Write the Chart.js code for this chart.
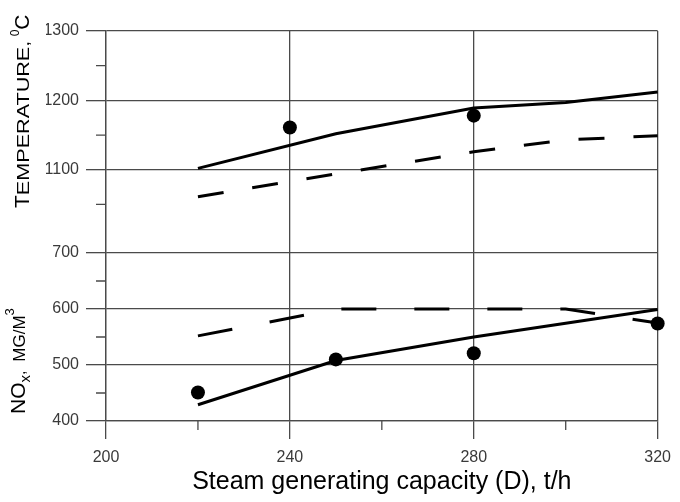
<!DOCTYPE html>
<html>
<head>
<meta charset="utf-8">
<title>Temperature and NOx vs steam generating capacity</title>
<script src="https://cdn.jsdelivr.net/npm/chart.js@4/dist/chart.umd.min.js"></script>
<style>
  html, body { margin: 0; padding: 0; background: #fff; }
  #wrap { position: relative; width: 680px; height: 502px; }
</style>
</head>
<body>
<div id="wrap"><canvas id="chart" width="680" height="502"></canvas></div>
<script>
// Steam generating capacity (D), t/h on the x axis, split y axis:
// furnace temperature (top) and NOx concentration (bottom)

var xTicks = [200, 240, 280, 320];
var xMinorTicks = [220, 260, 300];
var tempTicks = [1100, 1200, 1300];
var tempMinorTicks = [1050, 1150, 1250];
var noxTicks = [400, 500, 600, 700];
var noxMinorTicks = [450, 550, 650];

// temperature, calculated (solid) and second curve (dashed)
var tempCalcX = [220, 250, 280, 300, 320];
var tempCalc = [1102, 1152, 1189, 1197, 1212];
var tempDashX = [220, 250, 280, 300, 320];
var tempDash = [1061, 1094, 1126, 1143, 1149];
// temperature, measured
var tempExpX = [240, 280];
var tempExp = [1161, 1178];

// NOx, calculated (solid) and second curve (dashed)
var noxCalcX = [220, 250, 280, 320];
var noxCalc = [429, 508, 550, 599];
var noxDashX = [220, 250, 300, 320];
var noxDash = [552, 600, 600, 575];
// NOx, measured
var noxExpX = [220, 250, 280, 320];
var noxExp = [451, 510, 521, 574];

var xTitle = 'Steam generating capacity (D), t/h';

var FONT = "'Liberation Sans', Arial, sans-serif";
var GRID = '#4a4a4a';
var TICK_TEXT = '#3a3a3a';

function pairs(xs, ys) {
  return xs.map(function(x, i) { return { x: x, y: ys[i] }; });
}

function fixedTicks(values) {
  return function(scale) {
    scale.ticks = values.map(function(v) { return { value: v }; });
  };
}

function plainLabel(value) {
  return String(value);
}

// short unlabeled ticks between the labeled ones
var minorTicksPlugin = {
  id: 'minorTicks',
  afterDraw: function(chart) {
    var ctx = chart.ctx;
    var area = chart.chartArea;
    var sx = chart.scales.x, st = chart.scales.yT, sn = chart.scales.yN;
    ctx.save();
    ctx.strokeStyle = GRID;
    ctx.lineWidth = 1.3;
    ctx.beginPath();
    xMinorTicks.forEach(function(v) {
      var px = sx.getPixelForValue(v);
      ctx.moveTo(px, area.bottom);
      ctx.lineTo(px, area.bottom + 9);
    });
    tempMinorTicks.forEach(function(v) {
      var py = st.getPixelForValue(v);
      ctx.moveTo(area.left - 10, py);
      ctx.lineTo(area.left, py);
    });
    noxMinorTicks.forEach(function(v) {
      var py = sn.getPixelForValue(v);
      ctx.moveTo(area.left - 10, py);
      ctx.lineTo(area.left, py);
    });
    ctx.stroke();
    ctx.restore();
  }
};

// rotated y titles with small caps, sub- and superscripts
var Y_TITLES = [
  { x: 29, y: 208, parts: [
    { t: 'T', size: 21 },
    { t: 'EMPERATURE,', size: 16, sx: 1.35 },
    { t: ' ', size: 16 },
    { t: '0', size: 12, dy: -10 },
    { t: 'C', size: 21 }
  ] },
  { x: 25, y: 414, parts: [
    { t: 'NO', size: 21 },
    { t: 'x', size: 15, dy: 5 },
    { t: ',  ', size: 16 },
    { t: 'MG/M', size: 17 },
    { t: '3', size: 13, dy: -11 }
  ] }
];

var yTitlesPlugin = {
  id: 'yTitles',
  afterDraw: function(chart) {
    var ctx = chart.ctx;
    Y_TITLES.forEach(function(title) {
      ctx.save();
      ctx.translate(title.x, title.y);
      ctx.rotate(-Math.PI / 2);
      ctx.fillStyle = '#000';
      ctx.textBaseline = 'alphabetic';
      ctx.textAlign = 'left';
      var cx = 0;
      title.parts.forEach(function(p) {
        var s = p.sx || 1;
        ctx.font = p.size + 'px ' + FONT;
        ctx.save();
        ctx.translate(cx, p.dy || 0);
        ctx.scale(s, 1);
        ctx.fillText(p.t, 0, 0);
        ctx.restore();
        cx += ctx.measureText(p.t).width * s;
      });
      ctx.restore();
    });
  }
};

function lineSet(xs, ys, axis, dash) {
  return {
    data: pairs(xs, ys),
    yAxisID: axis,
    borderColor: '#000',
    borderWidth: 3,
    borderDash: dash || [],
    pointRadius: 0,
    tension: 0,
    fill: false,
    clip: false
  };
}

function pointSet(xs, ys, axis) {
  return {
    data: pairs(xs, ys),
    yAxisID: axis,
    showLine: false,
    pointRadius: 7,
    pointBackgroundColor: '#000',
    pointBorderColor: '#000',
    pointBorderWidth: 0,
    clip: false
  };
}

function yScale(min, max, ticks, weight) {
  return {
    type: 'linear',
    position: 'left',
    stack: 'y',
    stackWeight: weight,
    min: min,
    max: max,
    afterBuildTicks: fixedTicks(ticks),
    afterFit: function(s) { s.width = 60; },
    grid: { color: GRID, lineWidth: 1.3, tickLength: 20, tickColor: GRID },
    border: { display: true, color: GRID, width: 1.3 },
    ticks: { font: { family: FONT, size: 16 }, color: TICK_TEXT, padding: 7, callback: plainLabel }
  };
}

new Chart(document.getElementById('chart'), {
  type: 'line',
  data: {
    datasets: [
      pointSet(tempExpX, tempExp, 'yT'),
      pointSet(noxExpX, noxExp, 'yN'),
      lineSet(tempCalcX, tempCalc, 'yT'),
      lineSet(tempDashX, tempDash, 'yT', [26, 29]),
      lineSet(noxCalcX, noxCalc, 'yN'),
      lineSet(noxDashX, noxDash, 'yN', [35, 38])
    ]
  },
  options: {
    responsive: false,
    animation: false,
    events: [],
    layout: { padding: { left: 46, right: 14, top: 31, bottom: 0 } },
    plugins: {
      legend: { display: false },
      tooltip: { enabled: false }
    },
    scales: {
      x: {
        type: 'linear',
        min: 200,
        max: 320,
        afterBuildTicks: fixedTicks(xTicks),
        afterFit: function(s) { s.height = 81; },
        grid: { color: GRID, lineWidth: 1.3, tickLength: 18, tickColor: GRID },
        border: { display: true, color: GRID, width: 1.3 },
        ticks: { font: { family: FONT, size: 16 }, color: TICK_TEXT, padding: 9, maxRotation: 0, autoSkip: false, callback: plainLabel },
        title: {
          display: true,
          text: xTitle,
          color: '#000',
          font: { family: FONT, size: 25 },
          padding: { top: 0, bottom: 5 }
        }
      },
      // the stack is laid out bottom-up in config order: NOx first, temperature on top
      yN: yScale(400, 700, noxTicks, 168),
      yT: yScale(980, 1300, tempTicks, 222)
    }
  },
  plugins: [minorTicksPlugin, yTitlesPlugin]
});
</script>
</body>
</html>
